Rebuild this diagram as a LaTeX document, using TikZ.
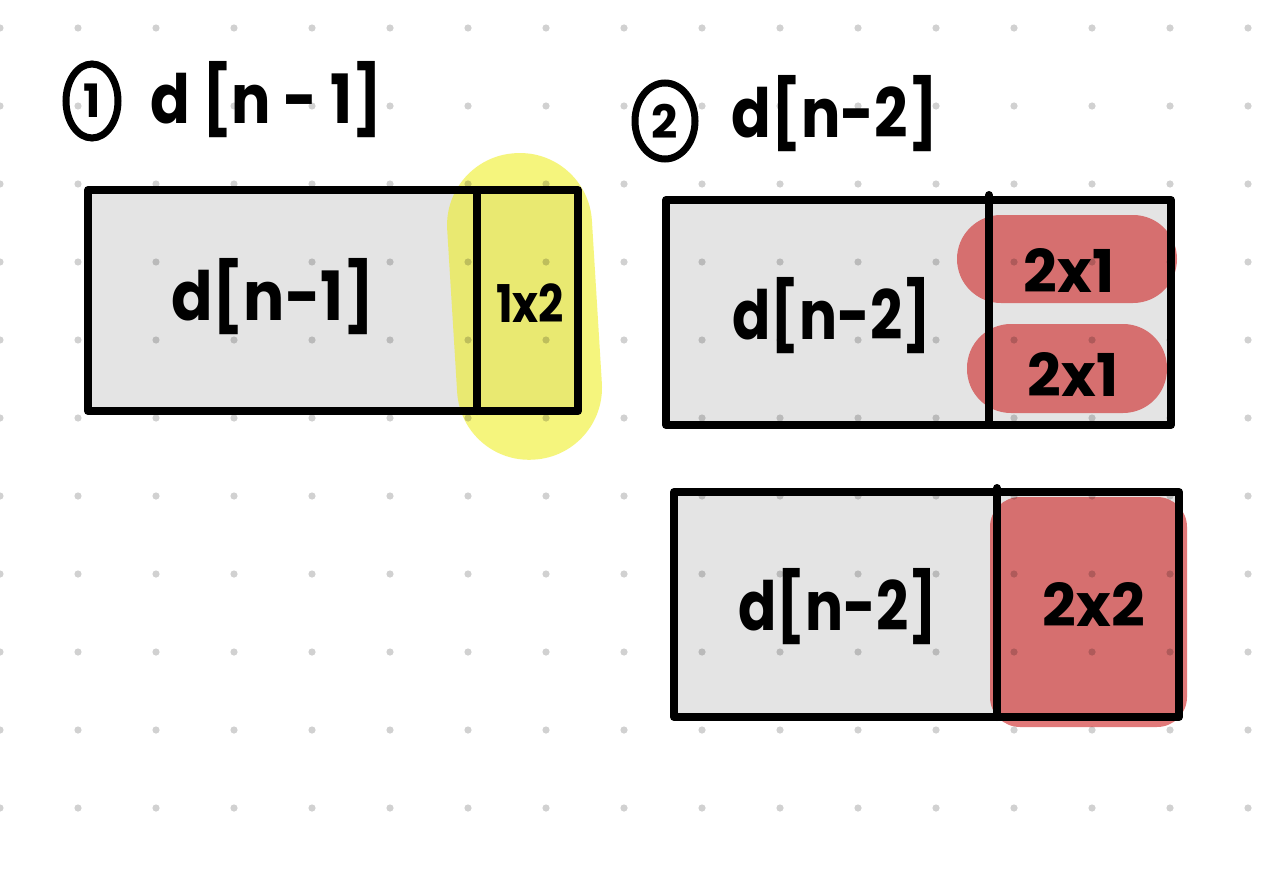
\documentclass[tikz,border=0pt]{standalone}
\usepackage{fontspec}
\setmainfont{Poppins}
\usetikzlibrary{shapes.geometric}
\definecolor{boxgray}{RGB}{228,228,228}
\definecolor{hlyellow}{RGB}{238,238,20}
\definecolor{hlred}{RGB}{205,33,33}
\definecolor{dotgray}{RGB}{0,0,0}
\begin{document}
\begin{tikzpicture}[x=1pt,y=-1pt,
  outline/.style={line width=8pt, line join=round, line cap=round},
  dotmark/.style={fill=dotgray, fill opacity=0.18},
  yellowhl/.style={fill=hlyellow, fill opacity=0.55},
  redhl/.style={fill=hlred, fill opacity=0.6},
  bigtext/.style={font=\fontsize{68}{70}\selectfont\bfseries, inner sep=0pt},
  midtext/.style={font=\fontsize{52}{54}\selectfont\bfseries, inner sep=0pt},
  largetext/.style={font=\fontsize{59}{61}\selectfont\bfseries, inner sep=0pt},
  numcircle/.style={draw, ellipse, line width=7pt, inner sep=0pt, font=\fontsize{46}{48}\selectfont\bfseries}
]
\useasboundingbox (0,0) rectangle (1280,883);
\fill[white] (0,0) rectangle (1280,883);
% gray box fills
\fill[boxgray] (88,190) rectangle (578,411);
\fill[boxgray] (666,200) rectangle (1171,425);
\fill[boxgray] (674,492) rectangle (1179,717);
% highlights
\fill[yellowhl, rotate around={3.5:(523,306)}, rounded corners=72pt] (452,153) rectangle (597,460);
\fill[redhl, rounded corners=44pt] (957,215) rectangle (1177,303);
\fill[redhl, rounded corners=44pt] (967,324) rectangle (1167,413);
\fill[redhl, rounded corners=30pt] (990,497) rectangle (1187,727);
% dot grid
\foreach \i in {0,...,16} {
  \foreach \j in {0,...,10} {
    \fill[dotmark] (78*\i, 28+78*\j) circle (3.6);
  }
}
% outlines
\draw[outline] (88,190) rectangle (578,411);
\draw[outline] (477,190) -- (477,411);
\draw[outline] (666,200) rectangle (1171,425);
\draw[outline] (989,195) -- (989,425);
\draw[outline] (674,492) rectangle (1179,717);
\draw[outline] (997,488) -- (997,717);
% titles
\node[numcircle, minimum width=52pt, minimum height=74pt] (c1) at (92,101) {1};
\node[bigtext, xscale=0.86] (t1) at (266,100) {d [n - 1]};
\node[numcircle, minimum width=60pt, minimum height=76pt] (c2) at (665,121) {2};
\node[bigtext, xscale=0.86] (t2) at (835,114) {d[n-2]};
% box labels
\node[bigtext, xscale=0.9] (b1) at (273,297) {d[n-1]};
\node[midtext, xscale=0.85] (l1) at (530,303) {1x2};
\node[bigtext, xscale=0.83] (b2) at (832,316) {d[n-2]};
\node[largetext] (l2) at (1069,270) {2x1};
\node[largetext] (l3) at (1073,374) {2x1};
\node[bigtext, xscale=0.83] (b3) at (838,607) {d[n-2]};
\node[largetext] (l4) at (1094,604) {2x2};
\end{tikzpicture}
\end{document}
